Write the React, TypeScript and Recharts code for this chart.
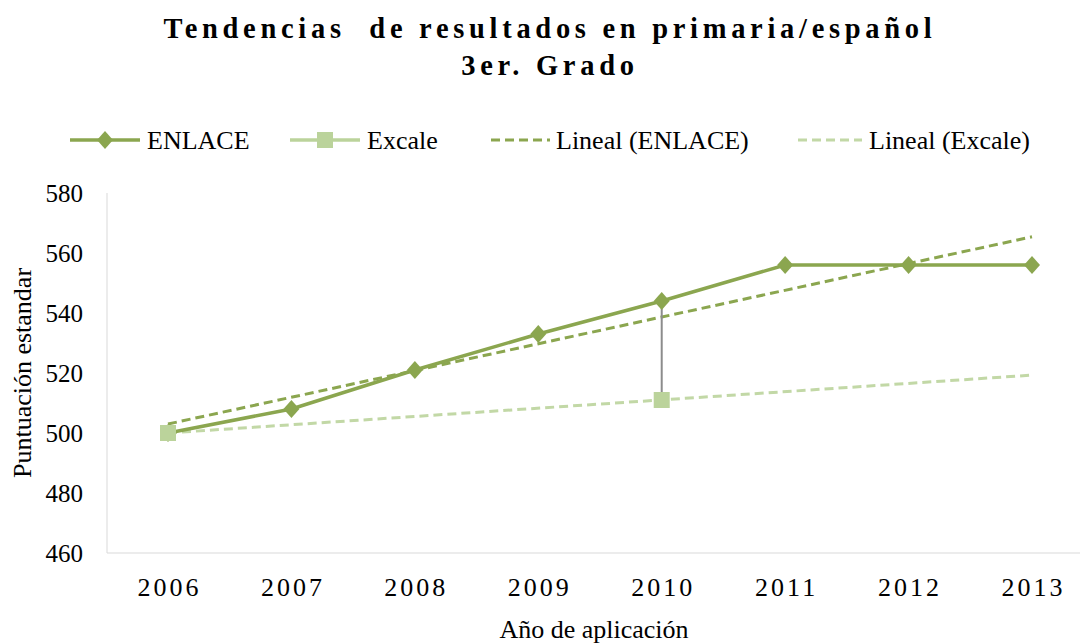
import React from 'react';
import { LineChart, Line, XAxis, YAxis, ReferenceLine } from 'recharts';

const years = ['2006', '2007', '2008', '2009', '2010', '2011', '2012', '2013'];
const enlace = [500, 508, 521, 533, 544, 556, 556, 556];
const excale: (number | null)[] = [500, null, null, null, 511, null, null, null];
const enlaceTrend: (number | null)[] = [503, null, null, null, null, null, null, 565.4];
const excaleTrend: (number | null)[] = [500, null, null, null, null, null, null, 519.3];
const yTicks = [460, 480, 500, 520, 540, 560, 580];

const titleLines = ['Tendencias  de resultados en primaria/español', '3er. Grado'];
const legendNames = ['ENLACE', 'Excale', 'Lineal (ENLACE)', 'Lineal (Excale)'];
const yTitle = 'Puntuación estandar';
const xTitle = 'Año de aplicación';

const C1 = '#8BA64F';
const C2 = '#BBD39B';
const C2T = '#C2D8A6';
const FONT = '"Liberation Serif", "DejaVu Serif", serif';

const data = years.map((y, i) => ({
  year: y,
  enlace: enlace[i],
  excale: excale[i],
  enlaceTrend: enlaceTrend[i],
  excaleTrend: excaleTrend[i],
}));

const dropLines = years
  .map((y, i) => ({ y, a: enlace[i], b: excale[i] }))
  .filter((d) => d.a != null && d.b != null && d.a !== d.b);

const Diamond = (props: any) => {
  const { cx, cy, value, index } = props;
  if (value == null || cx == null || cy == null) return <g key={'d' + index} />;
  return (
    <path
      key={'d' + index}
      d={`M${cx},${cy - 9} L${cx + 8},${cy} L${cx},${cy + 9} L${cx - 8},${cy} Z`}
      fill={C1}
    />
  );
};

const Square = (props: any) => {
  const { cx, cy, value, index } = props;
  if (value == null || cx == null || cy == null) return <g key={'s' + index} />;
  return <rect key={'s' + index} x={cx - 8} y={cy - 8} width={16} height={16} fill={C2} />;
};

const XTick = (props: any) => {
  const { x, y, payload } = props;
  return (
    <text x={x + 1.5} y={y} dy="0.71em" textAnchor="middle" fontFamily={FONT} fontSize={26} letterSpacing={3} fill="#000">
      {payload.value}
    </text>
  );
};

const YTick = (props: any) => {
  const { x, y, payload } = props;
  return (
    <text x={x} y={y} dy="0.355em" textAnchor="end" fontFamily={FONT} fontSize={25} fill="#000">
      {payload.value}
    </text>
  );
};

export default function App() {
  return (
    <div
      style={{
        position: 'absolute',
        left: 0,
        top: 0,
        width: 1085,
        height: 643,
        background: '#fff',
        fontFamily: FONT,
      }}
    >
      <LineChart
        width={1085}
        height={643}
        data={data}
        margin={{ top: 193, right: 5, bottom: 30, left: 20 }}
        style={{ fontFamily: FONT }}
      >
        <XAxis
          dataKey="year"
          stroke="#D9D9D9"
          tickLine={false}
          tickSize={0}
          tickMargin={25}
          height={60}
          padding={{ left: 61, right: 48 }}
          tick={XTick}
        />
        <YAxis
          domain={[460, 580]}
          ticks={yTicks}
          width={87}
          stroke="#D9D9D9"
          tickLine={false}
          tickSize={0}
          tickMargin={24}
          tick={YTick}
        />
        <Line
          dataKey="excaleTrend"
          stroke={C2T}
          strokeWidth={3}
          strokeDasharray="9 5"
          dot={false}
          connectNulls
          isAnimationActive={false}
        />
        <Line
          dataKey="enlaceTrend"
          stroke={C1}
          strokeWidth={3}
          strokeDasharray="9 5"
          dot={false}
          connectNulls
          isAnimationActive={false}
        />
        <Line
          dataKey="enlace"
          stroke={C1}
          strokeWidth={3.5}
          dot={Diamond}
          activeDot={false}
          isAnimationActive={false}
        />
        <Line
          dataKey="excale"
          stroke={C2}
          strokeWidth={3.5}
          dot={Square}
          activeDot={false}
          isAnimationActive={false}
        />
        {dropLines.map((d) => (
          <ReferenceLine
            key={d.y}
            segment={[
              { x: d.y, y: d.a },
              { x: d.y, y: d.b as number },
            ]}
            stroke="#8C8C8C"
            strokeWidth={2}
          />
        ))}
      </LineChart>
      <svg
        width={1085}
        height={643}
        style={{ position: 'absolute', left: 0, top: 0, pointerEvents: 'none' }}
        fontFamily={FONT}
      >
        <text x={550} y={38} textAnchor="middle" fontSize={28.5} fontWeight="bold" letterSpacing={4.7} style={{ whiteSpace: 'pre' }}>
          {titleLines[0]}
        </text>
        <text x={550} y={75} textAnchor="middle" fontSize={28.5} fontWeight="bold" letterSpacing={4.7}>
          {titleLines[1]}
        </text>

        <line x1={70} y1={140} x2={140} y2={140} stroke={C1} strokeWidth={3.5} />
        <path d="M105,131 L113,140 L105,149 L97,140 Z" fill={C1} />
        <text x={147} y={149} fontSize={26}>{legendNames[0]}</text>

        <line x1={290} y1={140} x2={360} y2={140} stroke={C2} strokeWidth={3.5} />
        <rect x={317} y={132} width={16} height={16} fill={C2} />
        <text x={367} y={149} fontSize={26}>{legendNames[1]}</text>

        <line x1={491} y1={140} x2={550} y2={140} stroke={C1} strokeWidth={3} strokeDasharray="9 5" />
        <text x={556} y={149} fontSize={26}>{legendNames[2]}</text>

        <line x1={798} y1={140} x2={862} y2={140} stroke={C2T} strokeWidth={3} strokeDasharray="9 5" />
        <text x={869} y={149} fontSize={26}>{legendNames[3]}</text>

        <text
          x={0}
          y={0}
          transform="translate(31,373) rotate(-90)"
          textAnchor="middle"
          fontSize={26}
        >
          {yTitle}
        </text>
        <text x={594} y={638} textAnchor="middle" fontSize={26}>{xTitle}</text>
      </svg>
    </div>
  );
}
